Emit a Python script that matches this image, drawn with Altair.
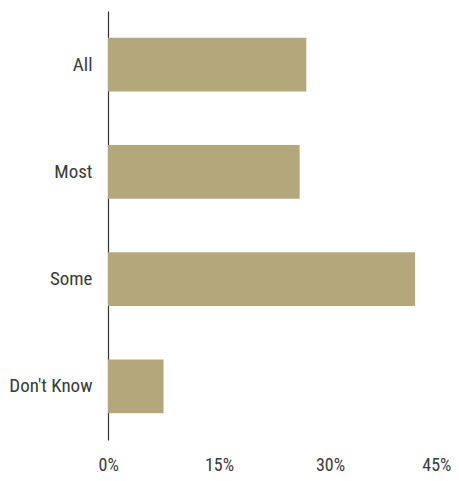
import altair as alt
import pandas as pd

categories = ["All", "Most", "Some", "Don't Know"]
values = [26.8, 25.9, 41.5, 7.5]

df = pd.DataFrame({"category": categories, "value": [v / 100 for v in values]})

FONT = "Liberation Sans Narrow, Arial Narrow, Roboto Condensed, Roboto, sans-serif"

chart = alt.Chart(df).mark_bar(color="#b3a77b").encode(
    x=alt.X("value:Q",
            scale=alt.Scale(domain=[0, 0.45], nice=False),
            axis=alt.Axis(values=[0, 0.15, 0.3, 0.45], format=".0%", title=None,
                          grid=False, domain=False, ticks=False,
                          labelFont=FONT, labelFontSize=18, labelColor="#3a3a3a",
                          labelPadding=16, labelFlush=True, labelFlushOffset=10)),
    y=alt.Y("category:N", sort=categories,
            scale=alt.Scale(paddingInner=0.5, paddingOuter=0.25),
            axis=alt.Axis(title=None, ticks=False, domain=True, domainColor="#333333",
                          domainWidth=1.2, labelFont=FONT, labelFontSize=19,
                          labelColor="#3a3a3a", labelPadding=16)),
).properties(
    width=333, height=429,
    autosize=alt.AutoSizeParams(type="none"),
    padding={"left": 100, "top": 3, "right": 10, "bottom": 33},
).configure_view(stroke=None)

chart.save("out.html", embed_options={"renderer": "svg", "actions": False})
